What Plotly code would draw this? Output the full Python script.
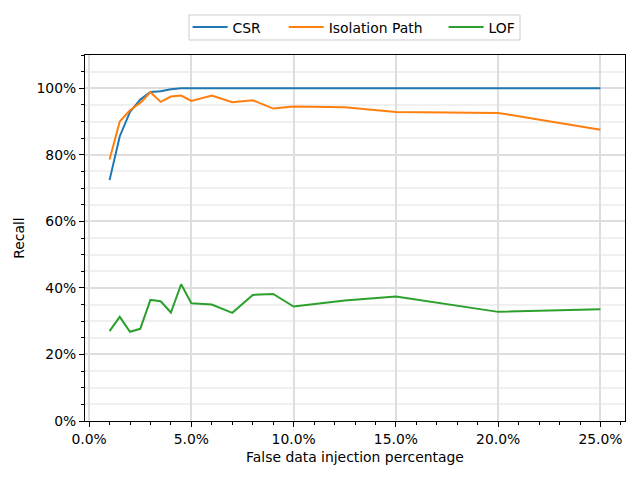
import plotly.graph_objects as go

# 注入比例（小数）
injection = [0.01, 0.015, 0.02, 0.025, 0.03, 0.035, 0.04, 0.045, 0.05, 0.06,
             0.07, 0.08, 0.09, 0.10, 0.125, 0.15, 0.20, 0.25]

csr_recall = [0.724, 0.856, 0.929, 0.966, 0.989, 0.991, 0.997, 1.0, 1.0, 1.0,
              1.0, 1.0, 1.0, 1.0, 1.0, 1.0, 1.0, 1.0]
iso_recall = [0.786, 0.900, 0.934, 0.956, 0.988, 0.959, 0.975, 0.978, 0.962, 0.978,
              0.958, 0.964, 0.939, 0.945, 0.943, 0.929, 0.926, 0.875]
lof_recall = [0.270, 0.313, 0.268, 0.277, 0.364, 0.360, 0.326, 0.411, 0.354, 0.350,
              0.325, 0.379, 0.382, 0.344, 0.362, 0.374, 0.328, 0.336]

series_names = ["CSR", "Isolation Path", "LOF"]
colors = ["#1f77b4", "#ff7f0e", "#2ca02c"]
legend_ids = ["legend", "legend2", "legend3"]
legend_x = [0.190, 0.368, 0.664]   # 每个图例项的起点（paper 坐标）

fig = go.Figure()
for name, vals, c, lg in zip(series_names, [csr_recall, iso_recall, lof_recall], colors, legend_ids):
    fig.add_trace(go.Scatter(
        x=injection, y=vals, mode="lines", name=name, legend=lg,
        line=dict(color=c, width=2)
    ))

font = dict(family="DejaVu Sans", size=13.9, color="#000000")

# 页面 body 有 8px 边距，这里把边距整体左移/上移
fig.update_layout(
    width=640, height=480,
    margin=dict(l=77, r=23, t=47, b=67, autoexpand=False),
    paper_bgcolor="#ffffff",
    plot_bgcolor="#ffffff",
    font=font,
    showlegend=True,
)

# 三个图例分开摆放，再用一个矩形当外框
for lg, lx in zip(legend_ids, legend_x):
    fig.update_layout({lg: dict(
        orientation="h",
        x=lx, xanchor="left",
        y=1.075, yanchor="middle",
        bgcolor="rgba(0,0,0,0)", borderwidth=0,
        itemwidth=35,
        font=font,
    )})

fig.add_shape(
    type="rect", xref="paper", yref="paper",
    x0=0.1926, x1=0.8056, y0=1.041, y1=1.1093,
    line=dict(color="#cccccc", width=1), fillcolor="#ffffff",
    layer="above",
)

fig.update_xaxes(
    range=[-0.002, 0.262],
    tickformat=".1%", dtick=0.05, tick0=0,
    ticks="outside", ticklen=5, tickcolor="#000000",
    showgrid=True, gridcolor="#dedede", gridwidth=1.5,
    showline=True, linecolor="#000000", linewidth=1, mirror=True,
    zeroline=False,
    minor=dict(dtick=0.01, tick0=0, ticks="outside", ticklen=3, tickcolor="#000000", showgrid=False),
    title=dict(text="False data injection percentage", font=font, standoff=6),
)
fig.update_yaxes(
    range=[0, 1.1],
    tickformat=".0%", dtick=0.2, tick0=0,
    ticks="outside", ticklen=5, tickcolor="#000000",
    showgrid=True, gridcolor="#dedede", gridwidth=1.5,
    showline=True, linecolor="#000000", linewidth=1, mirror=True,
    zeroline=False,
    minor=dict(dtick=0.05, tick0=0, ticks="outside", ticklen=3, tickcolor="#000000",
               showgrid=True, gridcolor="#f0f0f0", gridwidth=1.5),
    title=dict(text="Recall", font=font, standoff=8),
)

fig.write_html("out.html")
